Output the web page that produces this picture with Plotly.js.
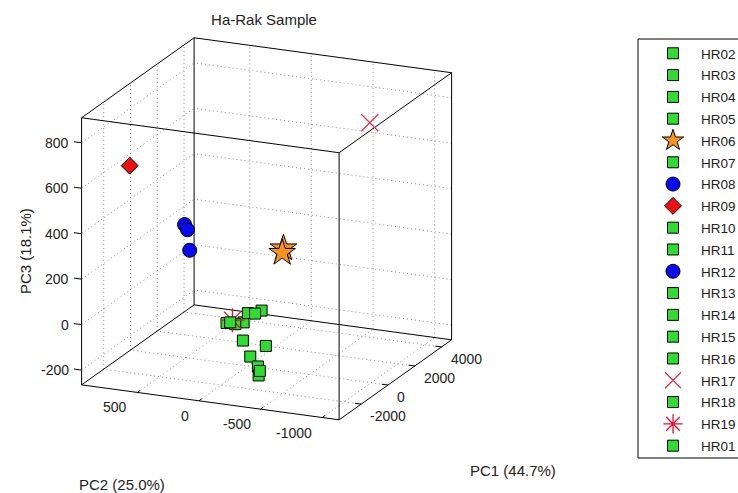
<!DOCTYPE html>
<html>
<head>
<meta charset="utf-8">
<script src="https://cdn.plot.ly/plotly-3.0.1.min.js"></script>
<style>html,body{margin:0;padding:0;background:#fff;}#plot{width:738px;height:493px;}</style>
</head>
<body>
<div id="plot"></div>
<script>
// ---------------- data ----------------
// legend order of samples and their marker group
const samples     = ['HR02','HR03','HR04','HR05','HR06','HR07','HR08','HR09','HR10','HR11','HR12','HR13','HR14','HR15','HR16','HR17','HR18','HR19','HR01'];
const sampleGroup = ['g','g','g','g','star','g','blue','diamond','g','g','blue','g','g','g','g','xmark','g','asterisk','g'];

// PCA scores, one entry per plotted point
const pointSample = ['HR02','HR03','HR04','HR05','HR06','HR06','HR07','HR08','HR08','HR09','HR10','HR11','HR12','HR13','HR14','HR15','HR16','HR17','HR18','HR19','HR01'];
const pc1 = [-1130,-1050,-1250,-980,1390,1420,-1180,-710,-650,-2810,-1020,-1300,-290,-1100,-1200,-1150,-1080,4330,-1250,-1130,-1170];
const pc2 = [50,-80,-136,-218,-138,-124,-88,436,419,653,-257,-161,440,-201,-218,-23,-176,-519,-233,2,16];
const pc3 = [-32,-23,30,36,205,183,-97,355,331,686,-115,-157,224,-206,-240,-31,24,662,-217,-16,-25];

// axis limits and ticks
const pc1Range = [-3650, 4750];
const pc2Range = [-1137, 952];
const pc3Range = [-265, 910];
const pc1Ticks = [-2000, 0, 2000, 4000];
const pc2Ticks = [-1000, -500, 0, 500];
const pc3Ticks = [-200, 0, 200, 400, 600, 800];

// ---------------- view (orthographic, like MATLAB view(az,el)) ----------------
const view = {az: 203.6, el: 18.1, size: 281, cx: 266.6, cy: 228.8};
const th = view.az*Math.PI/180, ph = view.el*Math.PI/180;
function project(x, y, z) {
  const nx = (x - pc1Range[0])/(pc1Range[1]-pc1Range[0]) - 0.5;
  const ny = (y - pc2Range[0])/(pc2Range[1]-pc2Range[0]) - 0.5;
  const nz = (z - pc3Range[0])/(pc3Range[1]-pc3Range[0]) - 0.5;
  const right = view.size*(-nx*Math.sin(th) + ny*Math.cos(th));
  const up = view.size*(-nx*Math.cos(th)*Math.sin(ph) - ny*Math.sin(th)*Math.sin(ph) + nz*Math.cos(ph));
  return [view.cx + right, view.cy - up];
}

const FONT = 'Liberation Sans, Arial, Helvetica, sans-serif';
const TXT = '#222';
const traces = [];
const annotations = [];

function segTrace(segs, line) {
  const xs = [], ys = [];
  segs.forEach(function(s){
    const a = project(s[0][0], s[0][1], s[0][2]);
    const b = project(s[1][0], s[1][1], s[1][2]);
    xs.push(a[0], b[0], null); ys.push(a[1], b[1], null);
  });
  return {type:'scatter', mode:'lines', x:xs, y:ys, line:line, hoverinfo:'skip', showlegend:false};
}

const [x0, x1] = pc1Range, [y0, y1] = pc2Range, [z0, z1] = pc3Range;

// dotted grid on the three back planes
const grid = [];
pc1Ticks.forEach(t => { grid.push([[t,y1,z0],[t,y1,z1]]); grid.push([[t,y0,z0],[t,y1,z0]]); });
pc2Ticks.forEach(t => { grid.push([[x1,t,z0],[x1,t,z1]]); grid.push([[x0,t,z0],[x1,t,z0]]); });
pc3Ticks.forEach(t => { grid.push([[x0,y1,t],[x1,y1,t]]); grid.push([[x1,y0,t],[x1,y1,t]]); });
traces.push(segTrace(grid, {color:'#8a8a8a', width:1, dash:'1px,3px'}));

// box edges
const box = [];
[y0,y1].forEach(y => [z0,z1].forEach(z => box.push([[x0,y,z],[x1,y,z]])));
[x0,x1].forEach(x => [z0,z1].forEach(z => box.push([[x,y0,z],[x,y1,z]])));
[x0,x1].forEach(x => [y0,y1].forEach(y => box.push([[x,y,z0],[x,y,z1]])));
traces.push(segTrace(box, {color:'#000', width:1}));

// tick marks
const tk = [];
const dx = 0.025*(x1-x0), dy = 0.03*(y1-y0);
pc3Ticks.forEach(t => tk.push([[x0,y1,t],[x0,y1+dy,t]]));
pc2Ticks.forEach(t => tk.push([[x0,t,z0],[x0+dx,t,z0]]));
pc1Ticks.forEach(t => tk.push([[t,y0,z0],[t,y0+dy*0.8,z0]]));
traces.push(segTrace(tk, {color:'#000', width:1}));

// tick labels
function lab(text, p, ox, oy, xa) {
  annotations.push({text:text, x:p[0]+ox, y:p[1]+oy, xref:'x', yref:'y', xanchor:xa, yanchor:'middle',
    showarrow:false, font:{family:FONT, size:14, color:TXT}});
}
pc3Ticks.forEach(t => lab(String(t), project(x0,y1,t), -11, 0, 'right'));
pc2Ticks.forEach(t => lab(String(t), project(x0,t,z0), -8, 15, 'right'));
pc1Ticks.forEach(t => lab(String(t), project(t,y0,z0), 7, 12, 'left'));

// ---------------- markers ----------------
const styles = {
  g:        {symbol:'square',           color:'#2fdc2f', size:11, line:{color:'#000', width:1}},
  blue:     {symbol:'circle',           color:'#0a0af0', size:14, line:{color:'#000', width:1}},
  diamond:  {symbol:'diamond',          color:'#ee1111', size:13, line:{color:'#000', width:1}},
  star:     {symbol:'star',             color:'#f7941d', size:20, line:{color:'#000', width:1}},
  xmark:    {symbol:'x-thin-open',      color:'#e0304a', size:17, line:{color:'#e0304a', width:1.2}},
  asterisk: {symbol:'asterisk-open',    color:'#e8102a', size:20, line:{color:'#e8102a', width:1.3}}
};

samples.forEach(function(s, i){
  const st = styles[sampleGroup[i]];
  const xs = [], ys = [];
  pointSample.forEach(function(p, j){
    if (p === s) { const q = project(pc1[j], pc2[j], pc3[j]); xs.push(q[0]); ys.push(q[1]); }
  });
  traces.push({type:'scatter', mode:'markers', x:xs, y:ys, name:s, legendgroup:s,
    marker:{symbol:st.symbol, color:st.color, size:st.size, line:st.line}, hoverinfo:'name'});
});

// axis titles
annotations.push({text:'PC3 (18.1%)', x:25, y:251, xref:'x', yref:'y', xanchor:'center', yanchor:'middle', textangle:-90, showarrow:false, font:{family:FONT, size:15, color:TXT}});
annotations.push({text:'PC2 (25.0%)', x:122, y:484, xref:'x', yref:'y', xanchor:'center', yanchor:'middle', showarrow:false, font:{family:FONT, size:15, color:TXT}});
annotations.push({text:'PC1 (44.7%)', x:513, y:470, xref:'x', yref:'y', xanchor:'center', yanchor:'middle', showarrow:false, font:{family:FONT, size:15, color:TXT}});

const layout = {
  width:738, height:493,
  margin:{l:0, r:0, t:0, b:0, pad:0, autoexpand:false},
  paper_bgcolor:'#fff', plot_bgcolor:'#fff',
  title:{text:'Ha-Rak Sample', x:264/738, xanchor:'center', y:1-20/493, yanchor:'middle', yref:'container',
         font:{family:FONT, size:15, color:TXT}},
  xaxis:{range:[0,738], visible:false, fixedrange:true},
  yaxis:{range:[493,0], visible:false, fixedrange:true},
  showlegend:true,
  legend:{x:645/738, xanchor:'left', y:1-38/493, yanchor:'top', borderwidth:0, bgcolor:'rgba(0,0,0,0)',
          font:{family:FONT, size:13.5, color:TXT}, itemwidth:46, tracegroupgap:1.25, traceorder:'grouped'},
  shapes:[{type:'rect', xref:'paper', yref:'paper', x0:638/738, x1:800/738, y0:1-458/493, y1:1-39/493,
           line:{color:'#000', width:1}, fillcolor:'rgba(0,0,0,0)', layer:'below'}],
  annotations:annotations
};

Plotly.newPlot('plot', traces, layout, {displayModeBar:false, staticPlot:true});
</script>
</body>
</html>
